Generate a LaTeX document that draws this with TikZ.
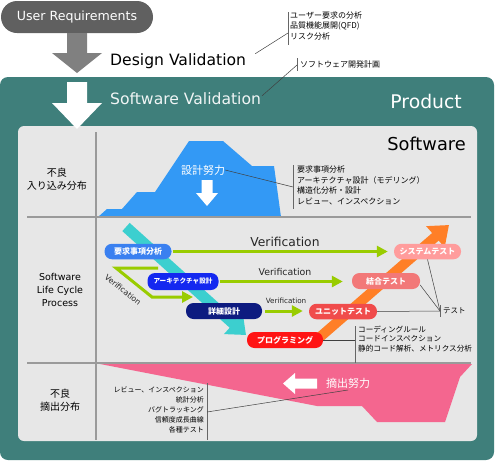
\documentclass[tikz,border=0pt]{standalone}
\usepackage{fontspec}
\setmainfont{DejaVu Sans}
\newfontfamily\jp{Noto Sans CJK JP}
\usepackage{tikz}
\usetikzlibrary{arrows.meta,calc}
\definecolor{pillgray}{HTML}{606060}
\definecolor{arrowgray}{HTML}{808080}
\definecolor{tealbg}{HTML}{3F7F7B}
\definecolor{panelgray}{HTML}{E7E7E7}
\definecolor{divgray}{HTML}{9A9A9A}
\definecolor{mtblue}{HTML}{3399F5}
\definecolor{vcyan}{HTML}{3CCFCF}
\definecolor{vorange}{HTML}{FF7F27}
\definecolor{vgreen}{HTML}{99CC00}
\definecolor{reqblue}{HTML}{3A80F0}
\definecolor{archblue}{HTML}{1428F0}
\definecolor{detnavy}{HTML}{0D1B80}
\definecolor{progred}{HTML}{FF1414}
\definecolor{unitred}{HTML}{F04B4B}
\definecolor{integred}{HTML}{F27878}
\definecolor{sysred}{HTML}{FF9C9C}
\definecolor{outpink}{HTML}{F4668F}
\tikzset{
  pill/.style={rounded corners=7.5pt,text=white,inner sep=0pt,minimum height=15.5pt,
    font=\jp\bfseries\fontsize{8}{8}\selectfont},
  note/.style={inner sep=0pt,align=left,font=\jp\fontsize{8}{10.5}\selectfont},
  colhead/.style={inner sep=0pt,align=center,font=\jp\fontsize{10}{13.5}\selectfont},
  leader/.style={draw=black!75,line width=0.5pt},
  notebar/.style={draw=black!60,line width=0.8pt},
  divider/.style={draw=divgray,line width=1.6pt},
  verarrow/.style={draw=vgreen,line width=3pt,-{Triangle[length=11pt,width=11pt]}},
  vlabel/.style={inner sep=0pt,text=black!85},
}
\begin{document}
\begin{tikzpicture}[x=1pt,y=-1pt]
\useasboundingbox (0,0) rectangle (495,461);
\fill[tealbg,rounded corners=8pt] (0,77) rectangle (494,460);
\fill[panelgray,rounded corners=6pt] (18,126) rectangle (477,441);

\node[fill=pillgray,rounded corners=16pt,minimum width=152pt,minimum height=32pt,text=white,
  font=\fontsize{12.6}{14}\selectfont] (user) at (77,17) {User Requirements};
\fill[arrowgray] (67,33) -- (87,33) -- (87,53) -- (102,53) -- (77,73) -- (52,53) -- (67,53) -- cycle;
\fill[white] (67,82) -- (87,82) -- (87,103) -- (102,103) -- (77,129) -- (52,103) -- (67,103) -- cycle;

\node[anchor=base west,inner sep=0pt,font=\fontsize{15.6}{18}\selectfont] (dval) at (110,65) {Design Validation};
\node[anchor=base west,inner sep=0pt,text=white!92!tealbg,font=\fontsize{15.6}{18}\selectfont] (sval) at (110,104.5) {Software Validation};
\node[anchor=base east,inner sep=0pt,text=white,font=\fontsize{18.8}{22}\selectfont] (prod) at (462,108) {Product};
\node[anchor=base east,inner sep=0pt,font=\fontsize{17.8}{20}\selectfont] (sw) at (466,150) {Software};

\draw[notebar] (288,12) -- (288,45);
\node[note,anchor=north west] (uanal) at (290,11.5) {ユーザー要求の分析\\品質機能展開(QFD)\\リスク分析};
\draw[leader] ([xshift=9pt,yshift=7pt]dval.east) -- (288,33);
\draw[notebar] (297,58) -- (297,71);
\node[note,anchor=west] (plan) at (300,64) {ソフトウェア開発計画};
\draw[leader] ([xshift=1pt,yshift=3pt]sval.east) -- (297,65);

% defect injection
\fill[mtblue] (98,217) -- (107,209) -- (122,209) -- (137,192) -- (155,192) -- (189,141)
  -- (223,141) -- (252,166) -- (274,166) -- (281,217) -- cycle;
\node[inner sep=0pt,text=white,font=\jp\fontsize{11}{11}\selectfont] (deff) at (203,170) {設計努力};
\fill[white] (201.5,180) -- (212.5,180) -- (212.5,193) -- (218,193) -- (207,206) -- (196,193) -- (201.5,193) -- cycle;
\draw[notebar] (293,165) -- (293,209);
\node[note,anchor=north west] (dnote) at (297,166) {要求事項分析\\アーキテクチャ設計（モデリング）\\構造化分析・設計\\レビュー、インスペクション};
\draw[leader] (deff.east) -- (293,187);

% defect extraction
\fill[outpink] (100,364) -- (472,364) -- (460,377) -- (445,422) -- (377,422) -- (362,406) -- (317,406) -- cycle;
\node[inner sep=0pt,text=white,font=\jp\fontsize{11}{11}\selectfont] (xeff) at (348,383) {摘出努力};
\fill[white] (283,383.5) -- (295,373) -- (295,378.5) -- (317,378.5) -- (317,388.5) -- (295,388.5) -- (295,394) -- cycle;
\draw[notebar] (207,383) -- (207,440);
\node[note,anchor=north east,align=right,font=\jp\fontsize{7}{10}\selectfont] (xnote) at (204,387) {レビュー、インスペクション\\統計分析\\バグトラッキング\\信頼度成長曲線\\各種テスト};
\draw[leader] ([yshift=-7pt]xeff.center) -- (207,412);

\draw[divider] (96,132) -- (96,440);
\draw[divider] (27,217) -- (471,217);
\draw[divider] (27,363) -- (471,363);

\node[colhead] (injhead) at (57,179) {不良\\入り込み分布};
\node[colhead,font=\fontsize{9.5}{13.3}\selectfont] (lchead) at (60,290) {Software\\Life Cycle\\Process};
\node[colhead] (exthead) at (60,400) {不良\\摘出分布};

% life cycle
\draw[vcyan,line width=11pt,-{Triangle[length=17pt,width=27pt]}] (126,227) -- (246,335);
\draw[vorange,line width=10pt,-{Triangle[length=18pt,width=27pt]}] (320,337) -- (449,225);

\coordinate (vstart) at (158,268);
\coordinate (vend) at (193,297);
\draw[verarrow] (vstart) -- (116,268) -- (152,297) -- (vend);
\node[vlabel,rotate=-39,font=\fontsize{7.8}{8}\selectfont] (vdiag) at (123,290) {Verification};

\node[pill,fill=reqblue,minimum width=67pt] (req) at (138,251.5) {要求事項分析};
\node[pill,fill=archblue,minimum width=71pt,minimum height=17pt,font=\jp\bfseries\fontsize{6.6}{7}\selectfont] (arch) at (183,281.5) {アーキテクチャ設計};
\node[pill,fill=detnavy,minimum width=76pt,minimum height=16pt] (detail) at (224,311) {詳細設計};
\node[pill,fill=progred,minimum width=76pt,minimum height=16pt] (prog) at (285,340) {プログラミング};
\node[pill,fill=unitred,minimum width=68pt] (unit) at (343,311.5) {ユニットテスト};
\node[pill,fill=integred,minimum width=68pt,minimum height=16pt] (integ) at (386,281) {結合テスト};
\node[pill,fill=sysred,minimum width=67pt] (systest) at (427.5,251.5) {システムテスト};

\draw[verarrow,shorten <=1pt,shorten >=6pt] (req.east) -- (systest.west);
\draw[verarrow,shorten <=1pt,shorten >=9pt] (arch.east) -- (arch.east -| integ.west);
\draw[verarrow,shorten <=3pt,shorten >=6pt] (detail.east) -- (detail.east -| unit.west);
\node[vlabel,font=\fontsize{12.3}{14}\selectfont] (v1) at (285,242) {Verification};
\node[vlabel,font=\fontsize{9.4}{11}\selectfont] (v2) at (285,272) {Verification};
\node[vlabel,font=\fontsize{7.2}{8}\selectfont] (v3) at (286,300.5) {Verification};

\draw[notebar] (440,305) -- (440,317);
\node[note,anchor=west,font=\jp\fontsize{7.5}{8}\selectfont] (tnote) at (443,311) {テスト};
\draw[leader] (systest.south) -- (440,311);
\draw[leader] ([yshift=-4pt]integ.east) -- (440,311);
\draw[leader] (unit.east) -- (440,311);

\draw[notebar] (355,326) -- (355,363);
\draw[leader] (prog.east) -- (355,340);
\node[note,anchor=north west,font=\jp\fontsize{7.6}{9.5}\selectfont] (pnote) at (358,325.5) {コーディングルール\\コードインスペクション\\静的コード解析、メトリクス分析};
\end{tikzpicture}
\end{document}
